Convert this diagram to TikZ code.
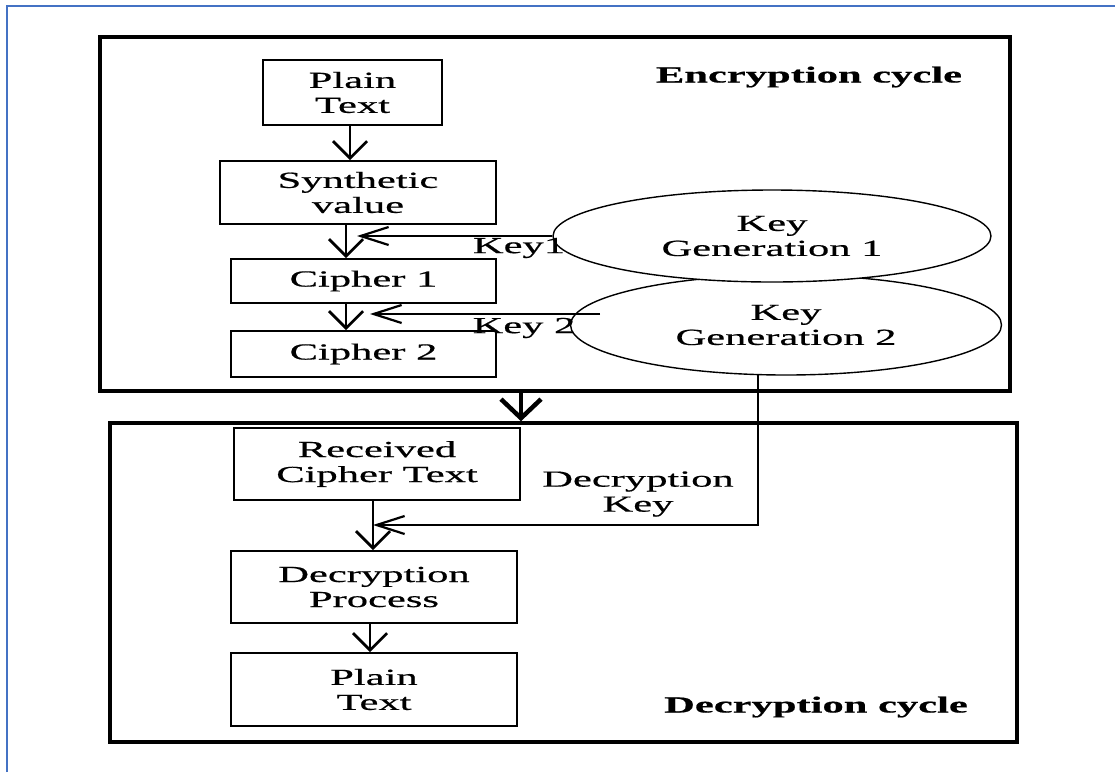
\documentclass[tikz,border=0pt]{standalone}
\usepackage{fontspec}
\setmainfont{Liberation Serif}[FakeStretch=1.85,
  UprightFeatures={FakeBold=0.6}, BoldFeatures={FakeBold=0.6}]
\usetikzlibrary{arrows.meta,shapes.geometric}
\definecolor{frameblue}{HTML}{4472C4}
\begin{document}
\begin{tikzpicture}[x=1pt,y=-1pt,
  every node/.style={font=\fontsize{23}{25}\selectfont, text=black},
  cycle/.style={draw, line width=3.5pt, inner sep=0pt},
  stepbox/.style={draw, line width=1.6pt, align=center, inner sep=0pt},
  keyell/.style={draw, ellipse, line width=1.4pt, fill=white, align=center, inner sep=0pt},
  varr/.style={line width=2.8pt, -{Straight Barb[length=17pt,width=34pt]}},
  harr/.style={line width=2.2pt, -{Straight Barb[length=28pt,width=18pt]}},
  bigarr/.style={line width=4.5pt, -{Straight Barb[length=19pt,width=40pt]}},
  lbl/.style={align=center, inner sep=0pt},
  title/.style={font=\fontsize{23}{25}\selectfont\bfseries, inner sep=0pt}]
\useasboundingbox (0,0) rectangle (1115,772);

% page frame
\draw[frameblue, line width=2pt] (7,772) -- (7,6) -- (1115,6);

% the two cycles
\node[cycle, minimum width=910, minimum height=354] (enc) at (555,214) {};
\node[cycle, minimum width=907, minimum height=319] (dec) at (563.5,582.5) {};

% encryption steps
\node[stepbox, minimum width=179, minimum height=65] (pt) at (352.5,92.5) {Plain\\Text};
\node[stepbox, minimum width=276, minimum height=63] (sv) at (358,192.5) {Synthetic\\value};
\node[stepbox, minimum width=265, minimum height=44] (c1) at (363.5,281) {Cipher 1};
\node[stepbox, minimum width=265, minimum height=46] (c2) at (363.5,354) {Cipher 2};

% decryption steps
\node[stepbox, minimum width=286, minimum height=72] (rct) at (377,464) {Received\\Cipher Text};
\node[stepbox, minimum width=286, minimum height=72] (dp) at (374,587) {Decryption\\Process};
\node[stepbox, minimum width=286, minimum height=73] (pt2) at (374,689.5) {Plain\\Text};

% key generators
\node[keyell, minimum width=431, minimum height=100] (kg2) at (786,325) {Key\\Generation 2};
\node[keyell, minimum width=438, minimum height=92] (kg1) at (772,236) {Key\\Generation 1};

\coordinate (k1tip) at (357,236);
\coordinate (k2src) at (600,314);
\coordinate (k2tip) at (370,314);
\coordinate (dksrc) at (758,375);
\coordinate (dkbend) at (758,525);
\coordinate (dktip) at (373,525);

% flow
\draw[varr] ([xshift=-2.5pt]pt.south) -- ([xshift=-8pt]sv.north);
\draw[varr] ([xshift=-12pt]sv.south) -- ([xshift=-17.5pt]c1.north);
\draw[varr] ([xshift=-17.5pt]c1.south) -- ([xshift=-17.5pt]c2.north);
\draw[harr] (kg1.west) -- (k1tip);
\draw[harr] (k2src) -- (k2tip);
\draw[bigarr] ([xshift=-34pt]enc.south) -- ([xshift=-42.5pt]dec.north);
\draw[varr] ([xshift=-4pt]rct.south) -- ([xshift=-1pt]dp.north);
\draw[harr] (dksrc) -- (dkbend) -- (dktip);
\draw[varr] ([xshift=-4pt]dp.south) -- ([xshift=-4pt]pt2.north);

% labels
\node[lbl] (k1l) at (519,248) {Key1};
\node[lbl] (k2l) at (524,328) {Key 2};
\node[lbl] (dkl) at (638,494) {Decryption\\Key};
\node[title] (enct) at (809,77) {Encryption cycle};
\node[title] (dect) at (816,707) {Decryption cycle};
\end{tikzpicture}
\end{document}
